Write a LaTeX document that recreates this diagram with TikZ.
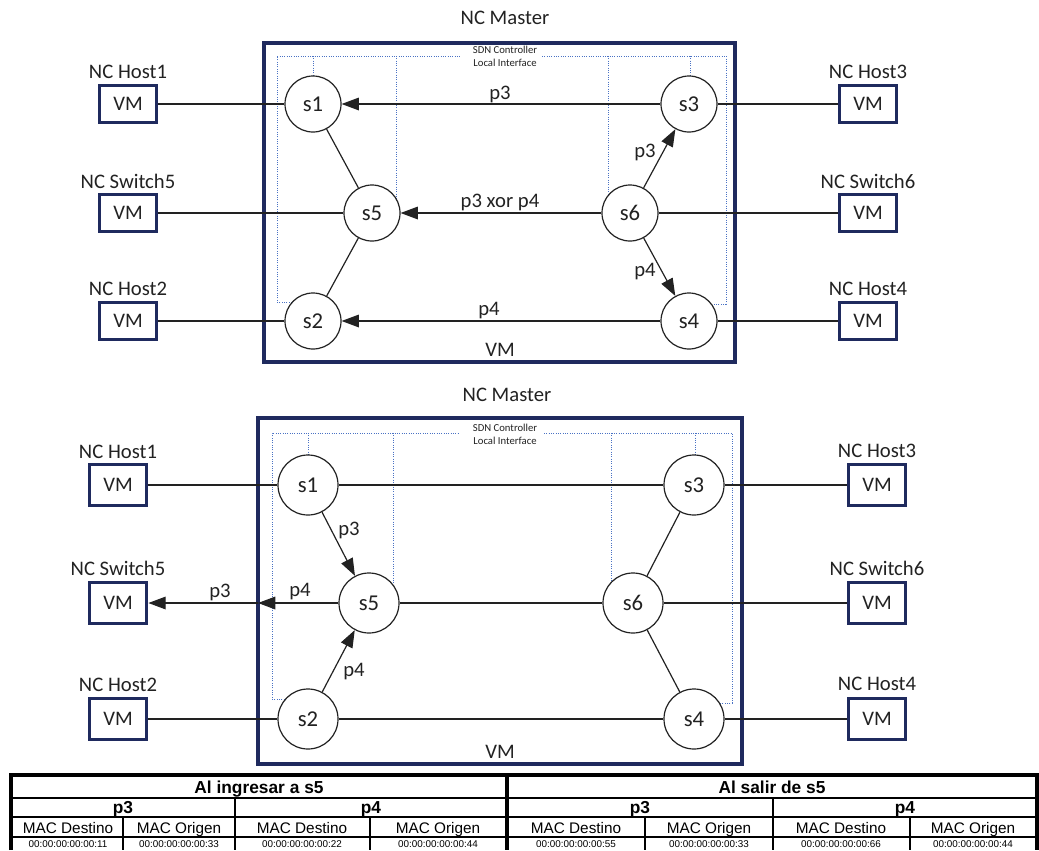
\documentclass[tikz,border=0pt]{standalone}
\usepackage{fontspec}
\setmainfont{Carlito}
\newfontfamily\arialf{Liberation Sans}
\usetikzlibrary{arrows.meta}
\definecolor{navy}{HTML}{1F2A5E}
\definecolor{dotblue}{HTML}{4A72C4}
\definecolor{txt}{HTML}{222222}
\begin{document}
\begin{tikzpicture}[x=0.75pt,y=-0.75pt,
  sw/.style={circle,draw=txt,line width=0.9pt,minimum size=42pt,inner sep=0pt,font=\fontsize{17}{19}\selectfont,text=txt,fill=white},
  swb/.style={sw,minimum size=45pt},
  vmbox/.style={draw=navy,line width=2.6pt,minimum width=43pt,minimum height=28pt,inner sep=0pt,font=\fontsize{15.5}{17}\selectfont,text=txt,fill=white},
  vmboxb/.style={vmbox,minimum height=30.5pt},
  lbl/.style={font=\fontsize{15.5}{17}\selectfont,text=txt,inner sep=0pt},
  master/.style={draw=navy,line width=2.6pt},
  ctl/.style={draw=dotblue,densely dotted,line width=0.75pt},
  link/.style={draw=txt,line width=0.9pt},
  arr/.style={link,-{Triangle[length=13pt,width=9.5pt]}},
  small/.style={font=\fontsize{8}{9.75}\selectfont,text=txt,align=center,inner sep=0pt},
  tbo/.style={draw=black,line width=2.6pt},
  tbi/.style={draw=black,line width=1.3pt},
  thd/.style={font=\arialf\bfseries\fontsize{13}{15}\selectfont,inner sep=0pt,anchor=base},
  tcl/.style={font=\arialf\fontsize{11.5}{13}\selectfont,inner sep=0pt,anchor=base},
  tvl/.style={font=\arialf\fontsize{7.4}{9}\selectfont,inner sep=0pt,anchor=base},
]
\useasboundingbox (0,0) rectangle (1039,850);

% ================= TOP DIAGRAM =================
\node[lbl] (mtitle1) at (505,18) {NC Master};
\draw[master] (264,43) rectangle (735,362);
% controller dotted lines
\draw[ctl] (313,302) -- (277,302) -- (277,56) -- (460,56);
\draw[ctl] (313,56) -- (313,104);
\draw[ctl] (396,56) -- (396,213);
\draw[ctl] (542,56) -- (726,56) -- (726,304) -- (689,304);
\draw[ctl] (608,56) -- (608,213);
\draw[ctl] (690,56) -- (690,104);
\node[small] (sdn1) at (505,56.5) {SDN Controller\\Local Interface};

\node[sw] (a1) at (313,104) {s1};
\node[sw] (a3) at (689,104) {s3};
\node[sw] (a5) at (372,213) {s5};
\node[sw] (a6) at (630,213) {s6};
\node[sw] (a2) at (313,321) {s2};
\node[sw] (a4) at (689,321) {s4};

\node[vmbox] (ah1) at (128,104) {VM};
\node[vmbox] (asw5) at (128,213) {VM};
\node[vmbox] (ah2) at (128,321) {VM};
\node[vmbox] (ah3) at (868,104) {VM};
\node[vmbox] (asw6) at (868,213) {VM};
\node[vmbox] (ah4) at (868,321) {VM};
\node[lbl] (lah1) at (128,72) {NC Host1};
\node[lbl] (lasw5) at (128,181) {NC Switch5};
\node[lbl] (lah2) at (128,289) {NC Host2};
\node[lbl] (lah3) at (868,72) {NC Host3};
\node[lbl] (lasw6) at (868,181) {NC Switch6};
\node[lbl] (lah4) at (868,289) {NC Host4};

\draw[link] (ah1) -- (a1);
\draw[link] (asw5) -- (a5);
\draw[link] (ah2) -- (a2);
\draw[link] (ah3) -- (a3);
\draw[link] (asw6) -- (a6);
\draw[link] (ah4) -- (a4);
\draw[link] (a1) -- (a5);
\draw[link] (a5) -- (a2);
\draw[arr] (a3) -- (a1);
\draw[arr] (a6) -- (a5);
\draw[arr] (a6) -- (a3);
\draw[arr] (a6) -- (a4);
\draw[arr] (a4) -- (a2);
\node[lbl] (ap1) at (500,94) {p3};
\node[lbl] (ap2) at (500,202) {p3 xor p4};
\node[lbl] (ap3) at (645,152) {p3};
\node[lbl] (ap4) at (645,272) {p4};
\node[lbl] (ap5) at (489,311) {p4};
\node[lbl] (avm) at (500,350) {VM};

% ================= BOTTOM DIAGRAM =================
\node[lbl] (mtitle2) at (507,395) {NC Master};
\draw[master] (258,418) rectangle (742,764);
\draw[ctl] (308,699) -- (272,699) -- (272,433) -- (460,433);
\draw[ctl] (308,433) -- (308,485);
\draw[ctl] (393,433) -- (393,603);
\draw[ctl] (544,433) -- (732,433) -- (732,703) -- (694,703);
\draw[ctl] (611,433) -- (611,603);
\draw[ctl] (695,433) -- (695,485);
\node[small] (sdn2) at (505,434) {SDN Controller\\Local Interface};

\node[swb] (b1) at (308,485) {s1};
\node[swb] (b3) at (694,485) {s3};
\node[swb] (b5) at (369,603) {s5};
\node[swb] (b6) at (633,603) {s6};
\node[swb] (b2) at (308,719) {s2};
\node[swb] (b4) at (694,719) {s4};

\node[vmboxb] (bh1) at (118,485) {VM};
\node[vmboxb] (bsw5) at (118,603) {VM};
\node[vmboxb] (bh2) at (118,719) {VM};
\node[vmboxb] (bh3) at (877,485) {VM};
\node[vmboxb] (bsw6) at (877,603) {VM};
\node[vmboxb] (bh4) at (877,719) {VM};
\node[lbl] (lbh1) at (118,452) {NC Host1};
\node[lbl] (lbsw5) at (118,568) {NC Switch5};
\node[lbl] (lbh2) at (118,685) {NC Host2};
\node[lbl] (lbh3) at (877,451) {NC Host3};
\node[lbl] (lbsw6) at (877,568) {NC Switch6};
\node[lbl] (lbh4) at (877,684) {NC Host4};

\coordinate (bd) at (258,603);
\draw[link] (bh1) -- (b1);
\draw[link] (bh2) -- (b2);
\draw[link] (bh3) -- (b3);
\draw[link] (bsw6) -- (b6);
\draw[link] (bh4) -- (b4);
\draw[link] (b1) -- (b3);
\draw[link] (b5) -- (b6);
\draw[link] (b2) -- (b4);
\draw[link] (b3) -- (b6);
\draw[link] (b6) -- (b4);
\draw[arr] (b1) -- (b5);
\draw[arr] (b2) -- (b5);
\draw[arr] (b5) -- (bd);
\draw[arr] (bd) -- (bsw5);
\node[lbl] (bp1) at (349,530) {p3};
\node[lbl] (bp2) at (354,672) {p4};
\node[lbl] (bp3) at (300,592) {p4};
\node[lbl] (bp4) at (220,592) {p3};
\node[lbl] (bvm) at (500,752) {VM};

% ================= TABLE =================
\draw[tbi] (11,798) -- (1037,798);
\draw[tbi] (11,817) -- (1037,817);
\draw[tbi] (11,837) -- (1037,837);
\draw[tbi] (235,798) -- (235,850);
\draw[tbi] (773,798) -- (773,850);
\draw[tbi] (123,817) -- (123,850);
\draw[tbi] (370,817) -- (370,850);
\draw[tbi] (645,817) -- (645,850);
\draw[tbi] (910,817) -- (910,850);
\draw[tbo] (507,775) -- (507,850);
\draw[tbo] (11,850) -- (11,775) -- (1037,775) -- (1037,850);

\node[thd] (t1) at (259,793) {Al ingresar a s5};
\node[thd] (t2) at (772,793) {Al salir de s5};
\node[thd] (t3) at (123,813.5) {p3};
\node[thd] (t4) at (371,813.5) {p4};
\node[thd] (t5) at (640,813.5) {p3};
\node[thd] (t6) at (905,813.5) {p4};
\node[tcl] (c1) at (68,833) {MAC Destino};
\node[tcl] (c2) at (179,833) {MAC Origen};
\node[tcl] (c3) at (302,833) {MAC Destino};
\node[tcl] (c4) at (438,833) {MAC Origen};
\node[tcl] (c5) at (576,833) {MAC Destino};
\node[tcl] (c6) at (709,833) {MAC Origen};
\node[tcl] (c7) at (841,833) {MAC Destino};
\node[tcl] (c8) at (973,833) {MAC Origen};
\node[tvl] (v1) at (68,847.5) {00:00:00:00:00:11};
\node[tvl] (v2) at (179,847.5) {00:00:00:00:00:33};
\node[tvl] (v3) at (302,847.5) {00:00:00:00:00:22};
\node[tvl] (v4) at (438,847.5) {00:00:00:00:00:44};
\node[tvl] (v5) at (576,847.5) {00:00:00:00:00:55};
\node[tvl] (v6) at (709,847.5) {00:00:00:00:00:33};
\node[tvl] (v7) at (841,847.5) {00:00:00:00:00:66};
\node[tvl] (v8) at (973,847.5) {00:00:00:00:00:44};
\end{tikzpicture}
\end{document}
